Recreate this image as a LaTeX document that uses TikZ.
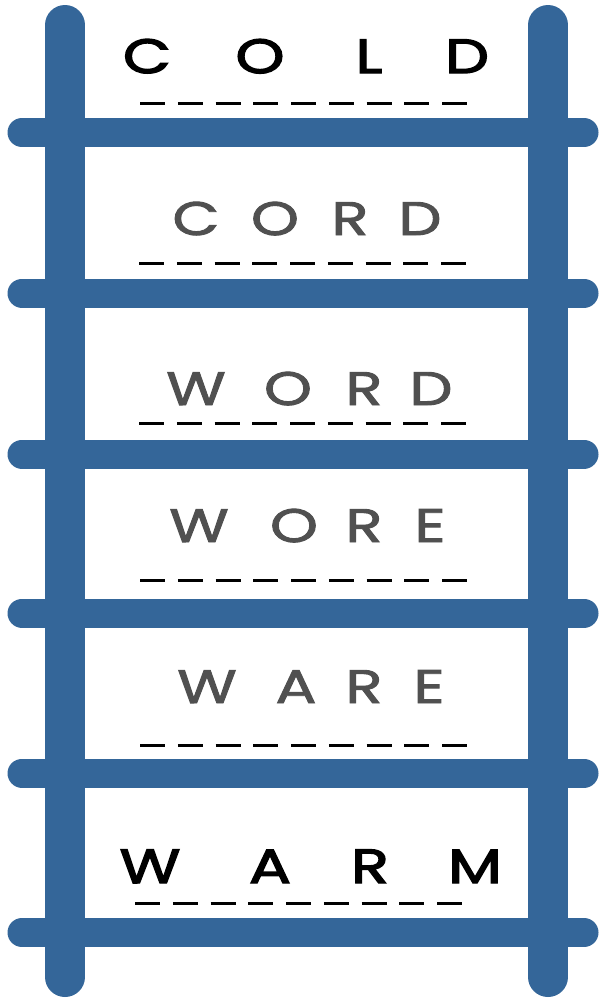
\documentclass[tikz,border=0pt]{standalone}
\usepackage{fontspec}
\setmainfont{Poppins}
\newfontfamily\gothmid[FakeStretch=1.3,FakeBold=2]{Poppins}
\newfontfamily\gothend[FakeStretch=1.3,FakeBold=3]{Poppins}
\definecolor{ladder}{HTML}{346699}
\definecolor{greytext}{HTML}{505050}
\tikzset{
  rail/.style={draw=ladder, line width=40pt, line cap=round},
  rung/.style={draw=ladder, line width=29pt, line cap=round},
  blank/.style={draw=black, line width=3pt, dash pattern=on 25pt off 12.75pt},
  endword/.style={anchor=base, inner sep=0pt, text=black, font=\gothend\fontsize{48}{48}\selectfont},
  midword/.style={anchor=base, inner sep=0pt, text=greytext, font=\gothmid\fontsize{47}{47}\selectfont},
}
\begin{document}
\begin{tikzpicture}[x=1pt, y=-1pt]
\useasboundingbox[fill=white] (0,0) rectangle (600,1001);
% rails
\draw[rail] (65,25) -- (65,977);
\draw[rail] (548,25) -- (548,977);
% rungs
\foreach \y in {132.5,293,454,613,773,932.5}
  \draw[rung] (22,\y) -- (584,\y);
% COLD
\node[endword] (c1) at (147,73) {C};
\node[endword] (o1) at (260,73) {O};
\node[endword] (l1) at (369,73) {L};
\node[endword] (d1) at (467,73) {D};
\draw[blank] (140,103) -- (467,103);
% CORD
\node[midword] (c2) at (196,235) {C};
\node[midword] (o2) at (275,235) {O};
\node[midword] (r2) at (350,235) {R};
\node[midword] (d2) at (420,235) {D};
\draw[blank] (139,263) -- (466,263);
% WORD
\node[midword] (w3) at (196,405) {W};
\node[midword] (o3) at (288,405) {O};
\node[midword] (r3) at (364,405) {R};
\node[midword] (d3) at (431,405) {D};
\draw[blank] (139,423) -- (466,423);
% WORE
\node[midword] (w4) at (199,542) {W};
\node[midword] (o4) at (294,542) {O};
\node[midword] (r4) at (364,542) {R};
\node[midword] (e4) at (430,542) {E};
\draw[blank] (140,580) -- (467,580);
% WARE
\node[midword] (w5) at (207,703) {W};
\node[midword] (a5) at (296,703) {A};
\node[midword] (r5) at (364,703) {R};
\node[midword] (e5) at (429,703) {E};
\draw[blank] (140,745) -- (467,745);
% WARM
\node[endword] (w6) at (150,883) {W};
\node[endword] (a6) at (270,883) {A};
\node[endword] (r6) at (370,883) {R};
\node[endword] (m6) at (475,883) {M};
\draw[blank] (135,903) -- (462,903);
\end{tikzpicture}
\end{document}
